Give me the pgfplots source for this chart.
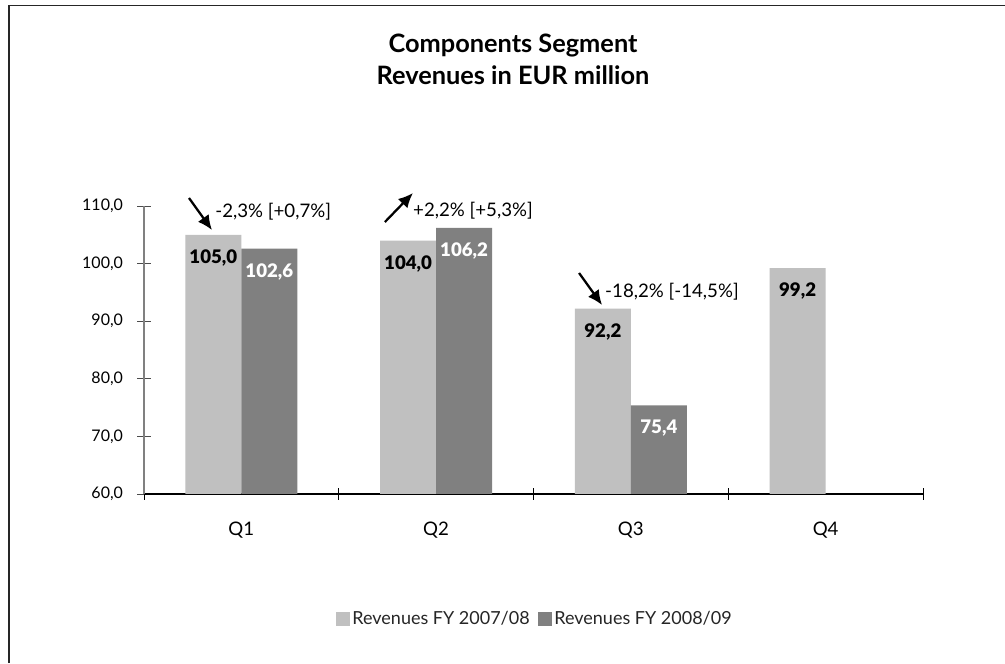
\documentclass[border=0pt]{standalone}
\usepackage{fontspec}
\setmainfont{Lato}
\newfontfamily\heavyfont{Lato Black}
\usepackage{pgfplots}
\pgfplotsset{compat=1.18}
\usetikzlibrary{arrows.meta}
\definecolor{lightbar}{RGB}{192,192,192}
\definecolor{darkbar}{RGB}{128,128,128}
\begin{document}
\begin{tikzpicture}[x=1pt,y=1pt]
\useasboundingbox (0,0) rectangle (753.75,497.25);
\fill[white] (0,0) rectangle (753.75,497.25);
\draw[line width=1.25pt, black!85] (6.75,0) -- (6.75,493.1) -- (753.75,493.1);
\node[align=center, font=\bfseries\fontsize{19}{24}\selectfont] at (384.75,453) {Components Segment\\Revenues in EUR million};
\begin{axis}[
  at={(108pt,126.75pt)}, anchor=south west, scale only axis,
  width=584.25pt, height=216pt,
  ybar=0pt, bar width=42pt,
  xmin=0.5, xmax=4.5, ymin=60, ymax=110,
  clip=false,
  axis x line*=bottom, axis y line*=left,
  x axis line style={black, line width=0.8pt, -},
  y axis line style={black!50, line width=1.1pt, -},
  xtick={1,2,3,4}, xticklabels={Q1,Q2,Q3,Q4},
  major x tick style={draw=none},
  minor xtick={0.5,1.5,2.5,3.5,4.5},
  minor x tick style={black, line width=0.6pt},
  minor tick length=9pt,
  ytick={60,70,...,110},
  major y tick style={black!70, line width=0.6pt},
  major tick length=10.5pt,
  tick align=center,
  /pgf/number format/assume math mode=true,
  yticklabel style={/pgf/number format/.cd, fixed, fixed zerofill, precision=1, use comma, /tikz/.cd, font=\fontsize{12}{14}\selectfont, xshift=-7pt},
  xticklabel style={font=\fontsize{14}{16}\selectfont, yshift=-12pt},
  nodes near coords={\pgfmathprintnumber[fixed,fixed zerofill,precision=1,use comma,assume math mode=true]{\pgfplotspointmeta}},
  every node near coord/.append style={anchor=north, yshift=-11pt, inner sep=0pt, font=\heavyfont\fontsize{14}{16}\selectfont},
  legend style={draw=none, fill=none, at={(0.502,-0.434)}, anchor=center, legend columns=2,
    font=\fontsize{13.5}{16}\selectfont, text=black!85,
    /tikz/every even column/.append style={column sep=5pt},
    nodes={inner sep=1.5pt}},
  legend image code/.code={\fill[#1] (0pt,-5.25pt) rectangle (10.5pt,5.25pt);},
]
\addplot[fill=lightbar, draw=none, every node near coord/.append style={text=black}] coordinates {(1,105.0) (2,104.0) (3,92.2) (4,99.2)};
\addplot[fill=darkbar, draw=none, every node near coord/.append style={text=white}] coordinates {(1,102.6) (2,106.2) (3,75.4)};
\legend{Revenues FY 2007/08, Revenues FY 2008/09}
\draw[-{Latex[length=11pt,width=10pt]}, line width=1.7pt] (axis cs:0.731,111.39) -- (axis cs:0.849,105.83);
\node[anchor=west, inner sep=0pt, font=\fontsize{14}{16}\selectfont] at (axis cs:0.865,108.96) {-2,3\% [+0,7\%]};
\draw[-{Latex[length=11pt,width=10pt]}, line width=1.7pt] (axis cs:1.737,107.22) -- (axis cs:1.881,112.26);
\node[anchor=west, inner sep=0pt, font=\fontsize{14}{16}\selectfont] at (axis cs:1.881,109.13) {+2,2\% [+5,3\%]};
\draw[-{Latex[length=11pt,width=10pt]}, line width=1.7pt] (axis cs:2.734,98.37) -- (axis cs:2.852,92.81);
\node[anchor=west, inner sep=0pt, font=\fontsize{14}{16}\selectfont] at (axis cs:2.867,95.07) {-18,2\% [-14,5\%]};
\end{axis}
\end{tikzpicture}
\end{document}
